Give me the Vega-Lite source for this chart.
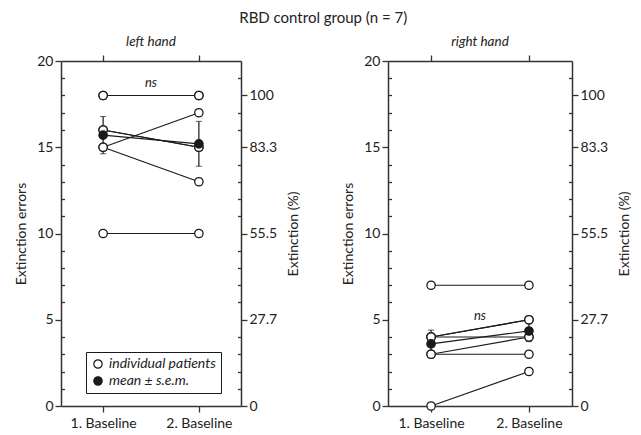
{
  "$schema": "https://vega.github.io/schema/vega-lite/v6.json",
  "background": "white",
  "padding": {"left": 14, "top": 10, "right": 5, "bottom": 5},
  "title": {"text": "RBD control group (n = 7)", "fontSize": 15, "fontWeight": "normal", "fontStyle": "normal", "font": "Lato", "color": "#222", "anchor": "middle", "offset": 9},
  "config": {
    "font": "Lato",
    "view": {"stroke": null},
    "axis": {"domainColor": "#333", "domainWidth": 1.5, "tickColor": "#333", "tickWidth": 1.3, "tickSize": 6, "labelFont": "Lato", "labelFontSize": 14, "labelColor": "#222", "labelPadding": 2, "titleFont": "Lato", "titleFontSize": 14, "titleFontWeight": "normal", "titleColor": "#222", "grid": false},
    "title": {"font": "Lato", "fontSize": 13.5, "fontWeight": "normal", "fontStyle": "italic", "color": "#222", "offset": 6},
    "legend": {"labelFont": "Lato", "labelFontSize": 14, "labelFontStyle": "italic", "labelColor": "#222"}
  },
  "datasets": {
    "left_patients": [
      {"patient": "P1", "session": 1, "errors": 18}, {"patient": "P1", "session": 2, "errors": 18},
      {"patient": "P2", "session": 1, "errors": 18}, {"patient": "P2", "session": 2, "errors": 18},
      {"patient": "P3", "session": 1, "errors": 16}, {"patient": "P3", "session": 2, "errors": 15},
      {"patient": "P4", "session": 1, "errors": 16}, {"patient": "P4", "session": 2, "errors": 15},
      {"patient": "P5", "session": 1, "errors": 15}, {"patient": "P5", "session": 2, "errors": 17},
      {"patient": "P6", "session": 1, "errors": 15}, {"patient": "P6", "session": 2, "errors": 13},
      {"patient": "P7", "session": 1, "errors": 10}, {"patient": "P7", "session": 2, "errors": 10}
    ],
    "left_means": [
      {"session": 1, "mean": 15.7, "sem": 1.08},
      {"session": 2, "mean": 15.2, "sem": 1.3}
    ],
    "right_patients": [
      {"patient": "P1", "session": 1, "errors": 7}, {"patient": "P1", "session": 2, "errors": 7},
      {"patient": "P2", "session": 1, "errors": 4}, {"patient": "P2", "session": 2, "errors": 5},
      {"patient": "P3", "session": 1, "errors": 4}, {"patient": "P3", "session": 2, "errors": 5},
      {"patient": "P4", "session": 1, "errors": 4}, {"patient": "P4", "session": 2, "errors": 4},
      {"patient": "P5", "session": 1, "errors": 3}, {"patient": "P5", "session": 2, "errors": 4},
      {"patient": "P6", "session": 1, "errors": 3}, {"patient": "P6", "session": 2, "errors": 3},
      {"patient": "P7", "session": 1, "errors": 0}, {"patient": "P7", "session": 2, "errors": 2}
    ],
    "right_means": [
      {"session": 1, "mean": 3.6, "sem": 0.8},
      {"session": 2, "mean": 4.35, "sem": 0.62}
    ]
  },
  "spacing": 40,
  "resolve": {"scale": {"fill": "independent"}, "legend": {"fill": "independent"}},
  "hconcat": [
    {
      "title": "left hand",
      "width": 180,
      "height": 345,
      "resolve": {"axis": {"x": "independent", "y": "independent"}},
      "layer": [
        {
          "data": {"name": "left_patients"},
          "mark": {"type": "line", "color": "#1a1a1a", "strokeWidth": 1.2},
          "encoding": {
            "x": {"field": "session", "type": "quantitative", "scale": {"domain": [0.56, 2.44], "nice": false, "zero": false},
                  "axis": {"orient": "bottom", "values": [1, 2], "title": null, "labelPadding": 4, "labelExpr": "datum.value == 1 ? '1. Baseline' : '2. Baseline'"}},
            "y": {"field": "errors", "type": "quantitative", "scale": {"domain": [0, 20], "nice": false},
                  "axis": {"orient": "left", "values": [0, 5, 10, 15, 20], "title": "Extinction errors", "titlePadding": 8}},
            "detail": {"field": "patient"}
          }
        },
        {
          "data": {"name": "left_means"},
          "mark": {"type": "line", "color": "#1a1a1a", "strokeWidth": 1.2},
          "encoding": {
            "x": {"field": "session", "type": "quantitative", "axis": {"orient": "top", "values": [1, 2], "labels": false, "title": null}},
            "y": {"field": "mean", "type": "quantitative",
                  "axis": {"orient": "right", "values": [0, 5, 10, 15, 18], "title": "Extinction (%)", "titleAngle": 270, "titleBaseline": "top", "titlePadding": 10,
                           "labelExpr": "datum.value == 18 ? '100' : datum.value == 15 ? '83.3' : datum.value == 10 ? '55.5' : datum.value == 5 ? '27.7' : '0'"}}
          }
        },
        {
          "data": {"name": "left_means"},
          "mark": {"type": "errorbar", "ticks": {"size": 6, "color": "#1a1a1a", "strokeWidth": 1.2}, "rule": {"color": "#1a1a1a", "strokeWidth": 1.2}},
          "encoding": {
            "x": {"field": "session", "type": "quantitative", "axis": null},
            "y": {"field": "mean", "type": "quantitative", "axis": null},
            "yError": {"field": "sem"}
          }
        },
        {
          "data": {"name": "left_patients"},
          "mark": {"type": "point", "shape": "circle", "size": 70, "filled": false, "stroke": "#1a1a1a", "strokeWidth": 1.3, "opacity": 1},
          "encoding": {
            "x": {"field": "session", "type": "quantitative", "axis": null},
            "y": {"field": "errors", "type": "quantitative",
                  "axis": {"orient": "left", "values": [1, 2, 3, 4, 6, 7, 8, 9, 11, 12, 13, 14, 16, 17, 18, 19], "labels": false, "domain": false, "tickSize": 3.5, "offset": -3.5, "title": null}},
            "fill": {"datum": "individual patients", "type": "nominal",
                     "scale": {"domain": ["individual patients", "mean ± s.e.m."], "range": ["white", "#1a1a1a"]},
                     "legend": {"title": null, "orient": "none", "legendX": 25, "legendY": 291, "strokeColor": "#1a1a1a", "padding": 5, "symbolType": "circle", "symbolSize": 70, "symbolStrokeColor": "#1a1a1a", "symbolStrokeWidth": 1.2, "rowPadding": 3, "fillColor": "white"}}
          }
        },
        {
          "data": {"name": "left_means"},
          "mark": {"type": "point", "shape": "circle", "size": 70, "stroke": "#1a1a1a", "strokeWidth": 1.3, "opacity": 1},
          "encoding": {
            "x": {"field": "session", "type": "quantitative", "axis": null},
            "y": {"field": "mean", "type": "quantitative",
                  "axis": {"orient": "right", "values": [1, 2, 3, 4, 6, 7, 8, 9, 11, 12, 13, 14, 16, 17, 19], "labels": false, "domain": false, "tickSize": 3.5, "offset": -3.5, "title": null}},
            "fill": {"datum": "mean ± s.e.m.", "type": "nominal"}
          }
        },
        {
          "data": {"values": [{}]},
          "mark": {"type": "text", "text": "ns", "fontStyle": "italic", "fontSize": 13, "color": "#222", "baseline": "middle"},
          "encoding": {
            "x": {"datum": 1.5, "type": "quantitative", "axis": null},
            "y": {"datum": 18.7, "type": "quantitative", "axis": null}
          }
        }
      ]
    },
    {
      "title": "right hand",
      "width": 184,
      "height": 345,
      "resolve": {"axis": {"x": "independent", "y": "independent"}},
      "layer": [
        {
          "data": {"name": "right_patients"},
          "mark": {"type": "line", "color": "#1a1a1a", "strokeWidth": 1.2},
          "encoding": {
            "x": {"field": "session", "type": "quantitative", "scale": {"domain": [0.56, 2.44], "nice": false, "zero": false},
                  "axis": {"orient": "bottom", "values": [1, 2], "title": null, "labelPadding": 4, "labelExpr": "datum.value == 1 ? '1. Baseline' : '2. Baseline'"}},
            "y": {"field": "errors", "type": "quantitative", "scale": {"domain": [0, 20], "nice": false},
                  "axis": {"orient": "left", "values": [0, 5, 10, 15, 20], "title": "Extinction errors", "titlePadding": 8}},
            "detail": {"field": "patient"}
          }
        },
        {
          "data": {"name": "right_means"},
          "mark": {"type": "line", "color": "#1a1a1a", "strokeWidth": 1.2},
          "encoding": {
            "x": {"field": "session", "type": "quantitative", "axis": {"orient": "top", "values": [1, 2], "labels": false, "title": null}},
            "y": {"field": "mean", "type": "quantitative",
                  "axis": {"orient": "right", "values": [0, 5, 10, 15, 18], "title": "Extinction (%)", "titleAngle": 270, "titleBaseline": "top", "titlePadding": 10,
                           "labelExpr": "datum.value == 18 ? '100' : datum.value == 15 ? '83.3' : datum.value == 10 ? '55.5' : datum.value == 5 ? '27.7' : '0'"}}
          }
        },
        {
          "data": {"name": "right_means"},
          "mark": {"type": "errorbar", "ticks": {"size": 6, "color": "#1a1a1a", "strokeWidth": 1.2}, "rule": {"color": "#1a1a1a", "strokeWidth": 1.2}},
          "encoding": {
            "x": {"field": "session", "type": "quantitative", "axis": null},
            "y": {"field": "mean", "type": "quantitative", "axis": null},
            "yError": {"field": "sem"}
          }
        },
        {
          "data": {"name": "right_patients"},
          "mark": {"type": "point", "shape": "circle", "size": 70, "filled": false, "stroke": "#1a1a1a", "strokeWidth": 1.3, "opacity": 1},
          "encoding": {
            "x": {"field": "session", "type": "quantitative", "axis": null},
            "y": {"field": "errors", "type": "quantitative",
                  "axis": {"orient": "left", "values": [1, 2, 3, 4, 6, 7, 8, 9, 11, 12, 13, 14, 16, 17, 18, 19], "labels": false, "domain": false, "tickSize": 3.5, "offset": -3.5, "title": null}},
            "fill": {"datum": "individual patients", "type": "nominal",
                     "scale": {"domain": ["individual patients", "mean ± s.e.m."], "range": ["white", "#1a1a1a"]}, "legend": null}
          }
        },
        {
          "data": {"name": "right_means"},
          "mark": {"type": "point", "shape": "circle", "size": 70, "stroke": "#1a1a1a", "strokeWidth": 1.3, "opacity": 1},
          "encoding": {
            "x": {"field": "session", "type": "quantitative", "axis": null},
            "y": {"field": "mean", "type": "quantitative",
                  "axis": {"orient": "right", "values": [1, 2, 3, 4, 6, 7, 8, 9, 11, 12, 13, 14, 16, 17, 19], "labels": false, "domain": false, "tickSize": 3.5, "offset": -3.5, "title": null}},
            "fill": {"datum": "mean ± s.e.m.", "type": "nominal", "legend": null}
          }
        },
        {
          "data": {"values": [{}]},
          "mark": {"type": "text", "text": "ns", "fontStyle": "italic", "fontSize": 13, "color": "#222", "baseline": "middle"},
          "encoding": {
            "x": {"datum": 1.5, "type": "quantitative", "axis": null},
            "y": {"datum": 5.2, "type": "quantitative", "axis": null}
          }
        }
      ]
    }
  ]
}
